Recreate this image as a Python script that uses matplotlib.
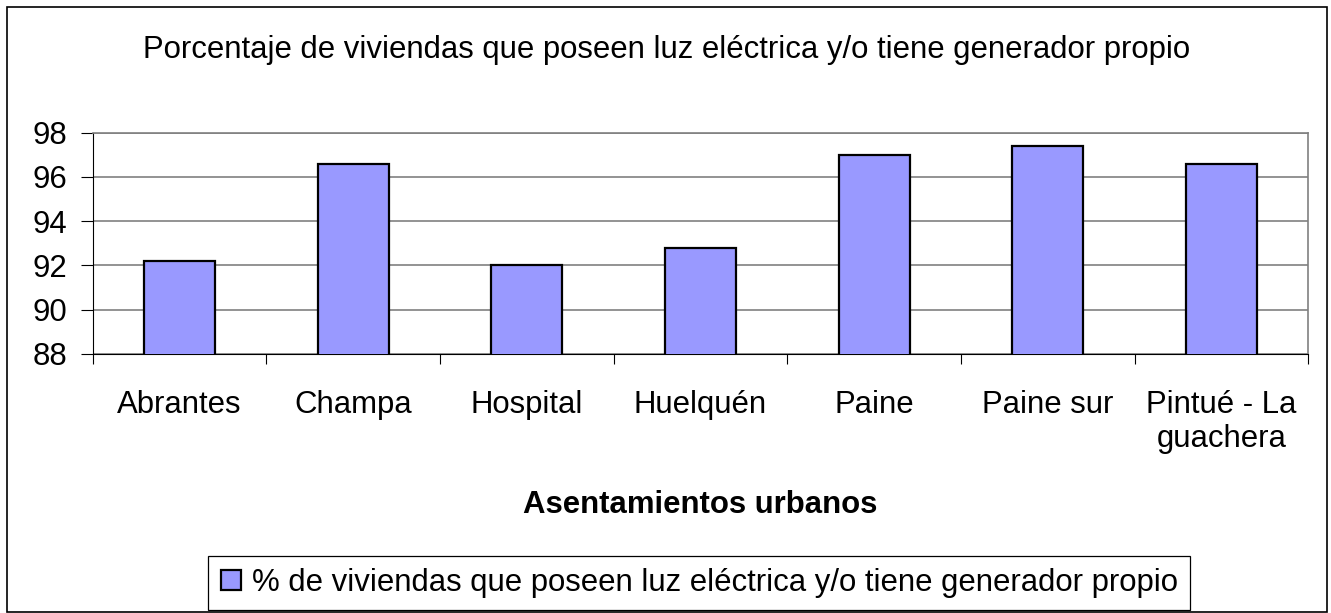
import matplotlib.pyplot as plt
from matplotlib.patches import Rectangle

CATEGORIES = [
    "Abrantes", "Champa", "Hospital", "Huelquén",
    "Paine", "Paine sur", "Pintué - La\nguachera",
]
VALUES = [92.2, 96.6, 92.0, 92.8, 97.0, 97.4, 96.6]
Y_TICKS = [88, 90, 92, 94, 96, 98]

SERIES_LABEL = "% de viviendas que poseen luz eléctrica y/o tiene generador propio"
TITLE = "Porcentaje de viviendas que poseen luz eléctrica y/o tiene generador propio"
XLABEL = "Asentamientos urbanos"

BAR_COLOR = "#9999FF"
GRID_COLOR = "#808080"

W, H = 1331, 613


def main() -> None:
    plt.rcParams.update({"font.family": "Liberation Sans", "font.size": 22.4})

    fig = plt.figure(figsize=(W / 100, H / 100), dpi=100)
    ax = fig.add_axes([92.7 / W, 259 / H, (1308.3 - 92.7) / W, 221.3 / H])

    x = list(range(len(CATEGORIES)))
    ax.bar(x, VALUES, width=0.41, color=BAR_COLOR, edgecolor="black",
           linewidth=1.6, label=SERIES_LABEL, zorder=3)

    ax.set_xlim(-0.5, len(CATEGORIES) - 0.5)
    ax.set_ylim(Y_TICKS[0], Y_TICKS[-1])
    ax.set_yticks(Y_TICKS)
    ax.tick_params(axis="y", direction="out", length=8.4, width=0.8, pad=10)
    ax.grid(True, axis="y", color=GRID_COLOR, linewidth=1.2, zorder=0)

    # category labels at centres, tick marks at the boundaries
    ax.set_xticks(x)
    ax.set_xticklabels(CATEGORIES, linespacing=1.15)
    ax.tick_params(axis="x", which="major", length=0, pad=26)
    ax.set_xticks([i - 0.5 for i in range(len(CATEGORIES) + 1)], minor=True)
    ax.tick_params(axis="x", which="minor", direction="out", length=7.5, width=0.8)

    for side in ["left", "bottom"]:
        ax.spines[side].set_color("black")
        ax.spines[side].set_linewidth(0.8)
    for side in ["top", "right"]:
        ax.spines[side].set_color(GRID_COLOR)
        ax.spines[side].set_linewidth(1.2)

    ax.set_xlabel(XLABEL, fontweight="bold", labelpad=26)

    fig.text(667 / W, (H - 58) / H, TITLE, ha="center", va="baseline")

    ax.legend(
        loc="center", bbox_to_anchor=(699.4 / W, 30 / H),
        bbox_transform=fig.transFigure, frameon=True, fancybox=False,
        edgecolor="black", framealpha=1, handlelength=0.65, handleheight=0.65,
        handletextpad=0.35, borderpad=0.4, borderaxespad=0,
    ).get_frame().set_linewidth(0.9)

    fig.add_artist(Rectangle(
        (7 / W, 1 / H), (1326.7 - 7) / W, (H - 8) / H,
        transform=fig.transFigure, fill=False, edgecolor="black", linewidth=1.2,
    ))

    fig.savefig("out.png", dpi=100)
    plt.close(fig)


if __name__ == "__main__":
    main()
